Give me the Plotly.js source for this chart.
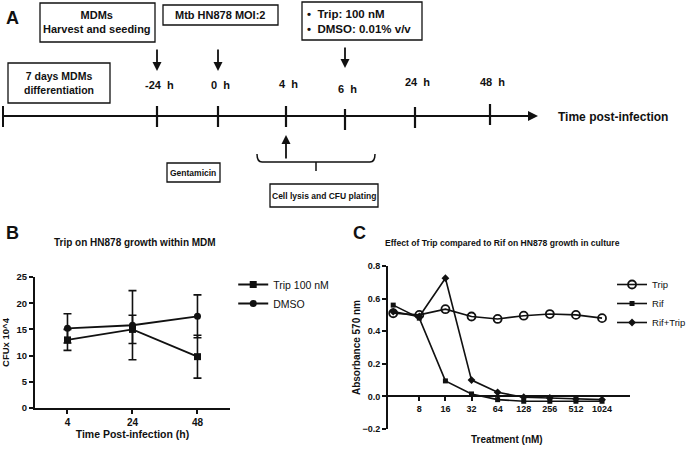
<!DOCTYPE html>
<html><head><meta charset="utf-8">
<script src="https://cdn.plot.ly/plotly-3.0.1.min.js"></script>
<style>html,body{margin:0;padding:0;background:#fff}#chart{width:690px;height:450px}</style>
</head><body><div id="chart"></div>
<script>
// ---- Panel B data ----
const timeCats = ['4', '24', '48'];
const tripMean = [13.0, 15.0, 9.8];
const tripErr  = [2.0, 2.7, 4.1];
const dmsoMean = [15.2, 15.8, 17.5];
const dmsoErr  = [2.8, 6.6, 4.1];
// ---- Panel C data ----
const doses = [4, 8, 16, 32, 64, 128, 256, 512, 1024];
const doseTicks = [8, 16, 32, 64, 128, 256, 512, 1024];
const absTrip    = [0.51, 0.50, 0.535, 0.49, 0.475, 0.495, 0.505, 0.50, 0.48];
const absRif     = [0.56, 0.48, 0.095, 0.015, -0.02, -0.03, -0.03, -0.03, -0.03];
const absRifTrip = [0.52, 0.49, 0.725, 0.10, 0.025, -0.005, -0.01, -0.015, -0.02];
// ---- Panel A timeline labels ----
const timeLabels = ['-24  h', '0  h', '4  h', '6  h', '24  h', '48  h'];

const F = '"Liberation Sans", Arial, sans-serif';
const K = '#111';

const traces = [
  {x: timeCats, y: tripMean, name: 'Trip 100 nM', type: 'scatter', mode: 'lines+markers',
   xaxis: 'x', yaxis: 'y', legend: 'legend',
   line: {color: K, width: 1.8}, marker: {symbol: 'square', size: 7, color: K},
   error_y: {type: 'data', array: tripErr, color: K, thickness: 1.6, width: 4}},
  {x: timeCats, y: dmsoMean, name: 'DMSO', type: 'scatter', mode: 'lines+markers',
   xaxis: 'x', yaxis: 'y', legend: 'legend',
   line: {color: K, width: 1.8}, marker: {symbol: 'circle', size: 7, color: K},
   error_y: {type: 'data', array: dmsoErr, color: K, thickness: 1.6, width: 4}},
  {x: doses, y: absTrip, name: 'Trip', type: 'scatter', mode: 'lines+markers',
   xaxis: 'x2', yaxis: 'y2', legend: 'legend2',
   line: {color: K, width: 1.6}, marker: {symbol: 'circle-open', size: 8, color: K, line: {width: 1.8}}},
  {x: doses, y: absRif, name: 'Rif', type: 'scatter', mode: 'lines+markers',
   xaxis: 'x2', yaxis: 'y2', legend: 'legend2',
   line: {color: K, width: 1.6}, marker: {symbol: 'square', size: 5, color: K}},
  {x: doses, y: absRifTrip, name: 'Rif+Trip', type: 'scatter', mode: 'lines+markers',
   xaxis: 'x2', yaxis: 'y2', legend: 'legend2',
   line: {color: K, width: 1.6}, marker: {symbol: 'diamond', size: 6, color: K}}
];

// timeline tick positions on the diagram canvas (x3/y3 pixel-like coordinates)
const tickX = [157, 218, 286, 345, 415, 490];
const tickY = [116, 116, 116, 119, 117, 114];
const labY  = [85, 85, 84, 89, 82, 82];

const shapes = [];
const ann = [];
function box(x0, y0, x1, y1) {
  shapes.push({type: 'rect', xref: 'x3', yref: 'y3', x0, y0, x1, y1, line: {color: K, width: 1.3}, fillcolor: 'rgba(0,0,0,0)'});
}
function txt(x, y, text, size, opts) {
  ann.push(Object.assign({xref: 'x3', yref: 'y3', x, y, text, showarrow: false,
    font: {family: F, size: size, color: K}}, opts || {}));
}
function arrow(xt, yt, xa, ya, w) {
  ann.push({xref: 'x3', yref: 'y3', axref: 'x3', ayref: 'y3', x: xt, y: yt, ax: xa, ay: ya,
    text: '', showarrow: true, arrowhead: 2, arrowsize: 1, arrowwidth: w || 1.8, arrowcolor: K});
}

// panel letters
txt(12, 18, '<b>A</b>', 18);
txt(12, 233, '<b>B</b>', 18);
txt(359, 233, '<b>C</b>', 18);

// boxes
box(40, 3, 155, 42);
txt(97, 22, '<b>MDMs<br>Harvest and seeding</b>', 11);
box(163, 5, 278, 25);
txt(220, 15, '<b>Mtb HN878 MOI:2</b>', 11);
box(302, 2, 422, 40);
txt(305, 21, '<b>•  Trip: 100 nM<br>•  DMSO: 0.01% v/v</b>', 11.5, {xanchor: 'left', align: 'left'});
box(8, 63, 110, 103);
txt(59, 83, '<b>7 days MDMs<br>differentiation</b>', 10.5);
box(167, 163, 220, 182);
txt(193, 172.5, '<b>Gentamicin</b>', 8.5);
box(270, 184, 378, 207);
txt(324, 195.5, '<b>Cell lysis and CFU plating</b>', 8.5);

// down arrows
arrow(157, 71, 157, 48);
arrow(218, 71, 218, 48);
arrow(345, 68, 345, 46);
// up arrow
arrow(286, 135, 286, 160);

// main timeline with arrowhead
shapes.push({type: 'line', xref: 'x3', yref: 'y3', x0: 3, y0: 116, x1: 528, y1: 116, line: {color: K, width: 2}});
arrow(538, 116, 520, 116, 2);
txt(613, 117, '<b>Time post-infection</b>', 12);

// start tick
shapes.push({type: 'line', xref: 'x3', yref: 'y3', x0: 3, y0: 106, x1: 3, y1: 127, line: {color: K, width: 2}});
timeLabels.forEach((t, i) => {
  shapes.push({type: 'line', xref: 'x3', yref: 'y3', x0: tickX[i], y0: tickY[i] - 10, x1: tickX[i], y1: tickY[i] + 11, line: {color: K, width: 2.2}});
  txt(tickX[i] + 2, labY[i], '<b>' + t + '</b>', 11);
});

// brace
shapes.push({type: 'path', xref: 'x3', yref: 'y3',
  path: 'M257,154 Q257,162 262,162 L370,162 Q375,162 375,154 M316,162 L316,171',
  line: {color: K, width: 1.5}});

// Panel B / C titles and star
ann.push({xref: 'x', yref: 'y', x: '48', y: 24.6, text: '<b>*</b>', showarrow: false, font: {family: F, size: 11, color: K}});
txt(135, 242, '<b>Trip on HN878 growth within MDM</b>', 10);
txt(502, 243, '<b>Effect of Trip compared to Rif on HN878 growth in culture</b>', 8.6);
txt(507, 439, '<b>Treatment (nM)</b>', 10);

const layout = {
  width: 690, height: 450,
  margin: {l: 0, r: 0, t: 0, b: 0, autoexpand: false},
  paper_bgcolor: '#fff', plot_bgcolor: 'rgba(0,0,0,0)',
  font: {family: F, color: K},
  showlegend: true,
  xaxis: {domain: [0.0507, 0.3333], type: 'category', range: [-0.5, 2.5], anchor: 'y',
    showline: true, linecolor: K, linewidth: 2, ticks: 'outside', ticklen: 4, tickwidth: 2, tickcolor: K,
    showgrid: false, zeroline: false, tickfont: {family: F, size: 10, color: K, weight: 'bold'},
    title: {text: '<b>Time Post-infection (h)</b>', font: {family: F, size: 10.5, color: K}, standoff: 3}},
  yaxis: {domain: [0.0933, 0.3844], range: [0, 25], anchor: 'x', tickvals: [0, 5, 10, 15, 20, 25],
    showline: true, linecolor: K, linewidth: 2, ticks: 'outside', ticklen: 4, tickwidth: 2, tickcolor: K,
    showgrid: false, zeroline: false, tickfont: {family: F, size: 9.5, color: K, weight: 'bold'},
    title: {text: '<b>CFUx 10^4</b>', font: {family: F, size: 9.5, color: K}, standoff: 8}},
  xaxis2: {domain: [0.5623, 0.9130], type: 'log', range: [Math.log10(Math.pow(2, 1.8)), Math.log10(Math.pow(2, 11.07))],
    anchor: 'free', position: 0.1191,
    tickvals: doseTicks, ticktext: doseTicks.map(String),
    showline: true, linecolor: K, linewidth: 2, ticks: 'outside', ticklen: 4, tickwidth: 2, tickcolor: K,
    showgrid: false, zeroline: false, tickfont: {family: F, size: 9, color: K, weight: 'bold'}},
  yaxis2: {domain: [0.0467, 0.4089], range: [-0.2, 0.8], anchor: 'x2', tickvals: [-0.2, 0, 0.2, 0.4, 0.6, 0.8],
    tickformat: '.1f',
    showline: true, linecolor: K, linewidth: 2, ticks: 'outside', ticklen: 4, tickwidth: 2, tickcolor: K,
    showgrid: false, zeroline: false, tickfont: {family: F, size: 9, color: K, weight: 'bold'},
    title: {text: '<b>Absorbance 570 nm</b>', font: {family: F, size: 10, color: K}, standoff: 0}},
  xaxis3: {domain: [0, 1], range: [0, 690], anchor: 'y3', visible: false, fixedrange: true},
  yaxis3: {domain: [0, 1], range: [450, 0], anchor: 'x3', visible: false, fixedrange: true},
  legend: {x: 0.338, y: 0.40, xanchor: 'left', yanchor: 'top', bgcolor: 'rgba(0,0,0,0)',
    font: {family: F, size: 10.5, color: K}, itemwidth: 30, tracegroupgap: 0},
  legend2: {x: 0.887, y: 0.40, xanchor: 'left', yanchor: 'top', bgcolor: 'rgba(0,0,0,0)',
    font: {family: F, size: 9.5, color: K}, itemwidth: 30},
  shapes: shapes,
  annotations: ann
};

Plotly.newPlot('chart', traces, layout, {staticPlot: true});
</script></body></html>
